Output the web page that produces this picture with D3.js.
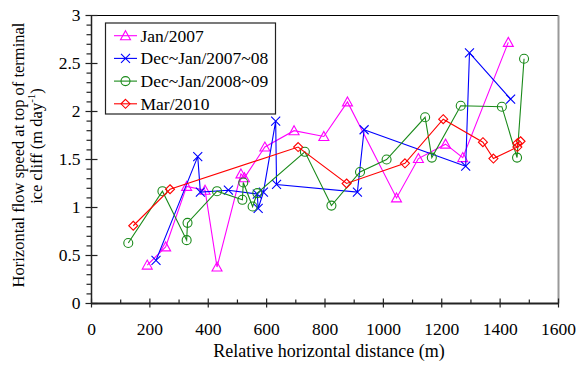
<!DOCTYPE html>
<html>
<head>
<meta charset="utf-8">
<script src="https://cdn.jsdelivr.net/npm/d3@7"></script>
<style>
  body { margin: 0; background: #fff; }
</style>
</head>
<body>
<svg id="chart" width="576" height="367" font-family="'Liberation Serif', 'Times New Roman', Times, serif"></svg>
<script>
// series data (distance m, speed m/day)
const jan2007X = [191, 254, 326, 389, 430, 512, 524, 594, 694, 796, 877, 1045, 1120, 1213, 1272, 1428];
const jan2007Y = [0.40, 0.59, 1.22, 1.18, 0.38, 1.35, 1.31, 1.63, 1.80, 1.74, 2.10, 1.10, 1.51, 1.66, 1.52, 2.72];

const dec0708X = [221, 364, 373, 469, 568, 571, 589, 631, 634, 911, 934, 1282, 1295, 1436];
const dec0708Y = [0.45, 1.53, 1.16, 1.18, 1.14, 0.99, 1.16, 1.90, 1.24, 1.16, 1.81, 1.43, 2.61, 2.13];

const dec0809X = [126, 243, 326, 329, 430, 517, 520, 552, 568, 731, 822, 920, 1011, 1143, 1166, 1265, 1406, 1458, 1482];
const dec0809Y = [0.63, 1.17, 0.66, 0.84, 1.17, 1.08, 1.26, 1.01, 1.15, 1.58, 1.02, 1.37, 1.50, 1.94, 1.52, 2.06, 2.05, 1.52, 2.55];

const mar2010X = [143, 269, 708, 874, 1074, 1205, 1341, 1377, 1459, 1459, 1470];
const mar2010Y = [0.81, 1.19, 1.63, 1.25, 1.46, 1.92, 1.68, 1.51, 1.63, 1.67, 1.69];

const seriesNames = ['Jan/2007', 'Dec~Jan/2007~08', 'Dec~Jan/2008~09', 'Mar/2010'];
const xTicks = [0, 200, 400, 600, 800, 1000, 1200, 1400, 1600];
const yTicks = [0, 0.5, 1, 1.5, 2, 2.5, 3];

const series = [
  { name: seriesNames[0], xs: jan2007X, ys: jan2007Y, color: '#ff00ff', shape: 'tri' },
  { name: seriesNames[1], xs: dec0708X, ys: dec0708Y, color: '#0000ff', shape: 'x' },
  { name: seriesNames[2], xs: dec0809X, ys: dec0809Y, color: '#1a8a1a', shape: 'circle' },
  { name: seriesNames[3], xs: mar2010X, ys: mar2010Y, color: '#ff0000', shape: 'diamond' }
];

const svg = d3.select('#chart');
const plotL = 91.5, plotR = 558.5, plotT = 15.5, plotB = 303.5;

const x = d3.scaleLinear().domain([0, 1600]).range([plotL, plotR]);
const y = d3.scaleLinear().domain([0, 3]).range([plotB, plotT]);

function markerPath(shape) {
  if (shape === 'tri') return 'M0,-5L5,4L-5,4Z';
  if (shape === 'x') return 'M-4.5,-4.5L4.5,4.5M-4.5,4.5L4.5,-4.5';
  if (shape === 'diamond') return 'M0,-4.5L4.5,0L0,4.5L-4.5,0Z';
  return null;
}

function drawMarker(g, shape, color, cx, cy) {
  if (shape === 'circle') {
    g.append('circle').attr('cx', cx).attr('cy', cy).attr('r', 4.5)
      .attr('fill', 'none').attr('stroke', color).attr('stroke-width', 1.1);
  } else {
    g.append('path').attr('d', markerPath(shape))
      .attr('transform', `translate(${cx},${cy})`)
      .attr('fill', 'none').attr('stroke', color).attr('stroke-width', 1.1);
  }
}

// frame: top thin, right gray
svg.append('line').attr('x1', plotL).attr('x2', plotR).attr('y1', plotT).attr('y2', plotT)
  .attr('stroke', '#000').attr('stroke-width', 1);
svg.append('line').attr('x1', plotR).attr('x2', plotR).attr('y1', plotT).attr('y2', plotB)
  .attr('stroke', '#999').attr('stroke-width', 2);

// series lines & markers
const line = d3.line().x(d => x(d[0])).y(d => y(d[1]));
series.forEach(s => {
  const pts = s.xs.map((v, i) => [v, s.ys[i]]);
  const g = svg.append('g');
  g.append('path').attr('d', line(pts)).attr('fill', 'none')
    .attr('stroke', s.color).attr('stroke-width', 1.1);
  pts.forEach(p => drawMarker(g, s.shape, s.color, x(p[0]), y(p[1])));
});

// x axis
const xAxis = svg.append('g');
xAxis.append('line').attr('x1', plotL).attr('x2', plotR).attr('y1', plotB).attr('y2', plotB)
  .attr('stroke', '#222').attr('stroke-width', 2);
d3.range(0, 1601, 100).forEach(v => {
  const major = v % 200 === 0;
  xAxis.append('line').attr('x1', x(v)).attr('x2', x(v))
    .attr('y1', major ? plotB - 5 : plotB - 4).attr('y2', major ? plotB + 4 : plotB)
    .attr('stroke', '#222').attr('stroke-width', 1.2);
});
xAxis.selectAll('text.tick').data(xTicks).enter().append('text')
  .attr('x', d => x(d)).attr('y', plotB + 31).attr('text-anchor', 'middle')
  .attr('font-size', 17.5).text(d => d);

// y axis
const yAxis = svg.append('g');
yAxis.append('line').attr('x1', plotL).attr('x2', plotL).attr('y1', plotT).attr('y2', plotB)
  .attr('stroke', '#222').attr('stroke-width', 1.5);
d3.range(0, 31).forEach(i => {
  const v = i / 10;
  const major = i % 5 === 0;
  yAxis.append('line').attr('y1', y(v)).attr('y2', y(v))
    .attr('x1', major ? plotL - 6 : plotL - 5).attr('x2', major ? plotL + 6 : plotL)
    .attr('stroke', '#222').attr('stroke-width', 1.2);
});
yAxis.selectAll('text.tick').data(yTicks).enter().append('text')
  .attr('x', plotL - 11).attr('y', d => y(d) + 5.8).attr('text-anchor', 'end')
  .attr('font-size', 17.5).text(d => d);

// axis titles
svg.append('text')
  .attr('x', (plotL + plotR) / 2 + 4).attr('y', 357)
  .attr('text-anchor', 'middle').attr('font-size', 18)
  .text('Relative horizontal distance (m)');

const yTitle = svg.append('g').attr('transform', 'rotate(-90)');
yTitle.append('text').attr('x', -155).attr('y', 23.5).attr('text-anchor', 'middle')
  .attr('font-size', 16.5).text('Horizontal flow speed at top of terminal');
const t2 = yTitle.append('text').attr('x', -146).attr('y', 41.5).attr('text-anchor', 'middle')
  .attr('font-size', 16.5);
t2.append('tspan').text('ice cliff (m day');
t2.append('tspan').attr('dy', -7).attr('font-size', 11).text('-1');
t2.append('tspan').attr('dy', 7).text(')');

// legend
const lg = svg.append('g');
lg.append('rect').attr('x', 105.5).attr('y', 23).attr('width', 170).attr('height', 91)
  .attr('fill', '#fff').attr('stroke', '#222').attr('stroke-width', 1.2);
series.forEach((s, i) => {
  const cy = 35.7 + i * 22.7;
  lg.append('line').attr('x1', 114).attr('x2', 137).attr('y1', cy).attr('y2', cy)
    .attr('stroke', s.color).attr('stroke-width', 1.1);
  drawMarker(lg, s.shape, s.color, 125.5, cy);
  lg.append('text')
    .attr('x', 140.5).attr('y', cy + 6).attr('font-size', 17.5).text(s.name);
});
</script>
</body>
</html>
